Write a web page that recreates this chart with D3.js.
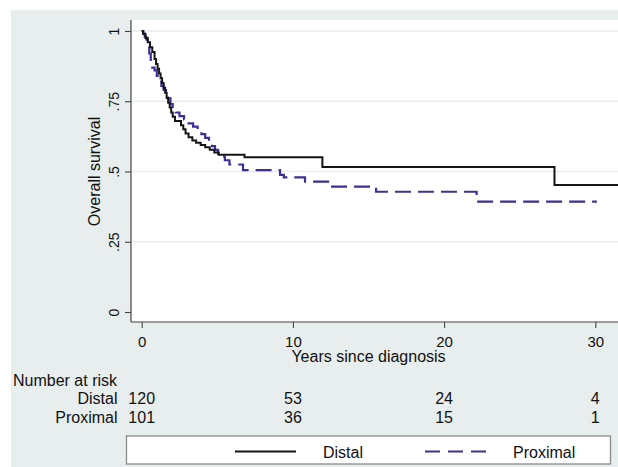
<!DOCTYPE html>
<html>
<head>
<meta charset="utf-8">
<script src="https://cdn.jsdelivr.net/npm/d3@7"></script>
<style>
  html, body { margin: 0; padding: 0; background: #ffffff; }
  svg { display: block; font-family: "Liberation Sans", Arial, Helvetica, sans-serif; }
</style>
</head>
<body>
<svg id="chart" width="618" height="467"></svg>
<script>
// ---------- DATA ----------
const groups = ["Distal", "Proximal"];
const distalTimes = [0, 0.1, 0.25, 0.4, 0.55, 0.7, 0.85, 0.95, 1.05, 1.15, 1.25, 1.35, 1.45, 1.55, 1.65, 1.75, 1.85, 1.95, 2.05, 2.2, 2.6, 2.75, 2.9, 3.1, 3.35, 3.6, 3.9, 4.2, 4.5, 4.8, 5.1, 6.8, 11.95, 27.3, 32];
const distalSurv  = [1, 0.99, 0.975, 0.96, 0.942, 0.925, 0.9, 0.883, 0.866, 0.849, 0.832, 0.815, 0.798, 0.78, 0.762, 0.745, 0.728, 0.71, 0.695, 0.68, 0.665, 0.65, 0.635, 0.622, 0.61, 0.602, 0.594, 0.586, 0.577, 0.568, 0.56, 0.551, 0.516, 0.452, 0.452];
const proximalTimes = [0, 0.1, 0.2, 0.3, 0.4, 0.5, 0.6, 0.7, 0.85, 1.0, 1.15, 1.3, 1.45, 1.6, 1.75, 1.9, 2.05, 2.25, 2.5, 2.8, 3.1, 3.4, 3.7, 3.95, 4.2, 4.45, 4.65, 4.85, 5.05, 5.2, 5.5, 5.8, 6.7, 9.15, 9.4, 10.8, 12.45, 15.5, 22.15, 30.1];
const proximalSurv  = [1, 0.99, 0.98, 0.97, 0.95, 0.92, 0.89, 0.87, 0.86, 0.84, 0.82, 0.805, 0.79, 0.775, 0.76, 0.74, 0.725, 0.71, 0.697, 0.685, 0.671, 0.66, 0.645, 0.633, 0.62, 0.605, 0.59, 0.577, 0.563, 0.553, 0.54, 0.525, 0.505, 0.488, 0.479, 0.464, 0.446, 0.428, 0.393, 0.393];
const xTicks = [0, 10, 20, 30];
const yTicks = [0, 0.25, 0.5, 0.75, 1];
const yTickLabels = ["0", ".25", ".5", ".75", "1"];
const riskTimes = [0, 10, 20, 30];
const riskDistal = [120, 53, 24, 4];
const riskProximal = [101, 36, 15, 1];

// ---------- LAYOUT ----------
const svg = d3.select("#chart");
const W = 618, H = 467;
const plotL = 131, plotT = 20, plotR = 640, plotB = 322;
const x = d3.scaleLinear().domain([0, 30]).range([141.7, 595.3]);
const y = d3.scaleLinear().domain([0, 1]).range([312, 31]);
const font = "Liberation Sans, Arial, sans-serif";
const colDistal = "#151515", colProx = "#3d2f98";

// outer background
svg.append("rect").attr("x", 11).attr("y", 10).attr("width", W - 11).attr("height", H - 10).attr("fill", "#e8eeed");
// plot region
svg.append("rect").attr("x", plotL).attr("y", plotT).attr("width", plotR - plotL).attr("height", plotB - plotT).attr("fill", "#ffffff");

// gridlines
svg.append("g").selectAll("line").data(yTicks.filter(d => d > 0)).join("line")
  .attr("x1", plotL).attr("x2", plotR)
  .attr("y1", d => y(d)).attr("y2", d => y(d))
  .attr("stroke", "#e9eded").attr("stroke-width", 1.6);

// curves
svg.append("clipPath").attr("id", "clip").append("rect")
  .attr("x", plotL).attr("y", plotT).attr("width", plotR - plotL).attr("height", plotB - plotT);
const line = d3.line().x(d => x(d[0])).y(d => y(d[1])).curve(d3.curveStepAfter);
const gCurves = svg.append("g").attr("clip-path", "url(#clip)");
gCurves.append("path").datum(proximalTimes.map((t, i) => [t, proximalSurv[i]]))
  .attr("d", line).attr("fill", "none").attr("stroke", colProx).attr("stroke-width", 2.2)
  .attr("stroke-dasharray", "16,7");
gCurves.append("path").datum(distalTimes.map((t, i) => [t, distalSurv[i]]))
  .attr("d", line).attr("fill", "none").attr("stroke", colDistal).attr("stroke-width", 2);

// y axis
const yAxis = d3.axisLeft(y).tickValues(yTicks).tickFormat((d, i) => yTickLabels[i]).tickSize(6).tickSizeOuter(0);
const gy = svg.append("g").attr("transform", `translate(${plotL},0)`).call(yAxis);
gy.select(".domain").attr("d", `M0,${plotT}V${plotB}`).attr("stroke", "#444").attr("stroke-width", 1.2);
gy.selectAll(".tick line").attr("stroke", "#444").attr("stroke-width", 1.1);
gy.selectAll(".tick text")
  .attr("font-family", font).attr("font-size", 14).attr("fill", "#111")
  .attr("text-anchor", "middle").attr("dy", 0).attr("x", 0)
  .attr("transform", "translate(-12,0) rotate(-90)");

// x axis
const xAxis = d3.axisBottom(x).tickValues(xTicks).tickSize(6).tickSizeOuter(0);
const gx = svg.append("g").attr("transform", `translate(0,${plotB})`).call(xAxis);
gx.select(".domain").attr("d", `M${plotL},0H${plotR}`).attr("stroke", "#444").attr("stroke-width", 1.2);
gx.selectAll(".tick line").attr("stroke", "#444").attr("stroke-width", 1.1);
gx.selectAll(".tick text").attr("font-family", font).attr("font-size", 15).attr("fill", "#111")
  .attr("y", 25).attr("dy", 0);

// axis titles
svg.append("text").attr("x", x(15)).attr("y", 362).attr("text-anchor", "middle")
  .attr("font-size", 16).attr("fill", "#111").text("Years since diagnosis");
svg.append("text").attr("transform", `translate(99.5,${(y(0) + y(1)) / 2}) rotate(-90)`)
  .attr("text-anchor", "middle").attr("font-size", 16).attr("fill", "#111").text("Overall survival");

// risk table
svg.append("text").attr("x", 13).attr("y", 385.5).attr("font-size", 16).attr("fill", "#111").text("Number at risk");
const rows = [riskDistal, riskProximal];
const rowY = [403.5, 422.5];
groups.forEach((g, gi) => {
  svg.append("text").attr("x", 117.5).attr("y", rowY[gi]).attr("text-anchor", "end")
    .attr("font-size", 16).attr("fill", "#111").text(g);
  svg.append("g").selectAll("text").data(riskTimes).join("text")
    .attr("x", d => x(d)).attr("y", rowY[gi]).attr("text-anchor", "middle")
    .attr("font-size", 16).attr("fill", "#111").text((d, i) => rows[gi][i]);
});

// legend
svg.append("rect").attr("x", 126.5).attr("y", 436).attr("width", 484).attr("height", 28)
  .attr("fill", "#ffffff").attr("stroke", "#8a8a8a").attr("stroke-width", 1.3);
svg.append("line").attr("x1", 235).attr("x2", 296).attr("y1", 451.5).attr("y2", 451.5)
  .attr("stroke", colDistal).attr("stroke-width", 2);
svg.append("text").attr("x", 323).attr("y", 457.5).attr("font-size", 16).attr("fill", "#111").text(groups[0]);
svg.append("line").attr("x1", 425).attr("x2", 487).attr("y1", 451.5).attr("y2", 451.5)
  .attr("stroke", colProx).attr("stroke-width", 2.2).attr("stroke-dasharray", "15,8");
svg.append("text").attr("x", 513).attr("y", 457.5).attr("font-size", 16).attr("fill", "#111").text(groups[1]);
svg.selectAll("text").attr("font-family", font);
</script>
</body>
</html>
